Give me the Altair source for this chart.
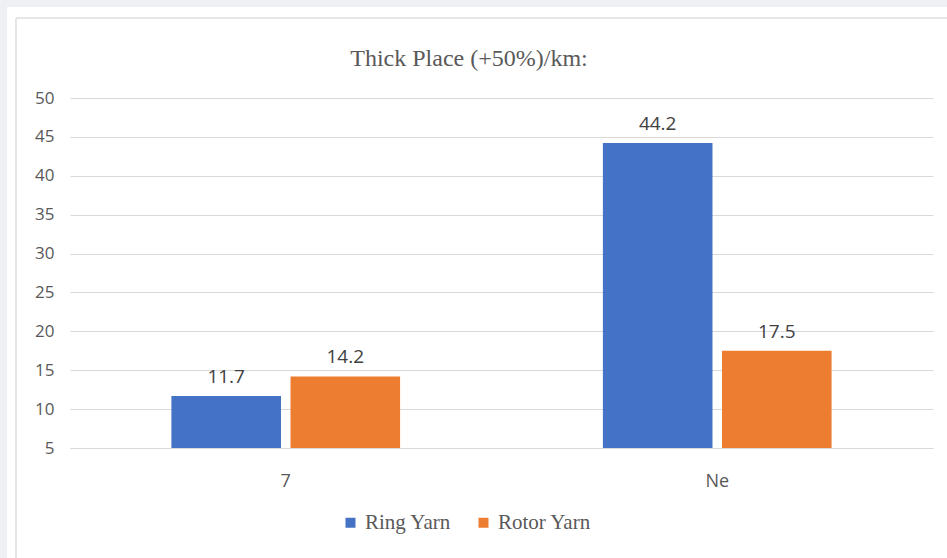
import altair as alt
import pandas as pd

# Chart data
categories = ["7", "Ne"]
series = ["Ring Yarn", "Rotor Yarn"]
ring_yarn = [11.7, 44.2]
rotor_yarn = [14.2, 17.5]
y_ticks = [5, 10, 15, 20, 25, 30, 35, 40, 45, 50]
title_text = "Thick Place (+50%)/km:"

rows = []
for cat, r, o in zip(categories, ring_yarn, rotor_yarn):
    rows.append({"count": cat, "yarn": series[0], "value": r})
    rows.append({"count": cat, "yarn": series[1], "value": o})
df = pd.DataFrame(rows)
one = pd.DataFrame({"title": [title_text]})

BLUE = "#4472c4"
ORANGE = "#ed7d31"
TEXT = "#595959"
GRID = "#d9d9d9"

x_enc = alt.X(
    "count:N",
    sort=categories,
    scale=alt.Scale(paddingInner=0.47, paddingOuter=0.235),
    axis=alt.Axis(
        title=None, labelAngle=0, ticks=False, domainColor=GRID,
        labelFont="Open Sans", labelFontSize=18, labelColor=TEXT,
        labelPadding=24, grid=False,
    ),
)
xoff_enc = alt.XOffset("yarn:N", sort=series,
                       scale=alt.Scale(paddingInner=0.08, paddingOuter=0))
y_enc = alt.Y(
    "value:Q",
    scale=alt.Scale(domain=[5, 50], zero=False, nice=False),
    axis=alt.Axis(
        title=None, values=y_ticks, ticks=False, domain=False,
        gridColor=GRID, gridWidth=1.2, labelOverlap=False,
        labelFont="Open Sans", labelFontSize=17, labelColor=TEXT,
        labelPadding=16,
    ),
)

bars = alt.Chart(df).mark_bar().encode(
    x=x_enc,
    xOffset=xoff_enc,
    y=y_enc,
    y2=alt.datum(5),
    color=alt.Color(
        "yarn:N", sort=series,
        scale=alt.Scale(domain=series, range=[BLUE, ORANGE]),
        legend=alt.Legend(
            title=None, orient="none", direction="horizontal",
            legendX=270, legendY=414,
            symbolType="square", symbolSize=100, symbolStrokeWidth=0,
            labelFont="Liberation Serif", labelFontSize=21, labelColor=TEXT,
            labelOffset=4, columnPadding=22,
        ),
    ),
)

labels = alt.Chart(df).mark_text(
    baseline="bottom", dy=-9, font="Open Sans", fontSize=19, color="#404040"
).encode(
    x=x_enc,
    xOffset=xoff_enc,
    y=y_enc,
    text=alt.Text("value:Q", format=".1f"),
)

# chart heading above the plot
heading = alt.Chart(one).mark_text(
    font="Liberation Serif", fontSize=24, color=TEXT,
    align="center", baseline="middle",
).encode(x=alt.value(399), y=alt.value(-39), text="title:N")

# page margin strips and the outer frame lines
strip_left = alt.Chart(one).mark_rect(color="#eef0f3").encode(
    x=alt.value(-70), x2=alt.value(-63), y=alt.value(-98), y2=alt.value(460)
)
strip_top = alt.Chart(one).mark_rect(color="#eef0f3").encode(
    x=alt.value(-70), x2=alt.value(877), y=alt.value(-98), y2=alt.value(-91)
)
frame_v = alt.Chart(one).mark_rule(color="#dedede", strokeWidth=1.5).encode(
    x=alt.value(-54), y=alt.value(-80), y2=alt.value(460)
)
frame_h = alt.Chart(one).mark_rule(color="#dedede", strokeWidth=1.5).encode(
    x=alt.value(-54), x2=alt.value(877), y=alt.value(-80)
)

chart = alt.layer(
    strip_left, strip_top, frame_v, frame_h, heading, bars, labels
).properties(
    width=863,
    height=350,
    background="white",
    autosize=alt.AutoSizeParams(type="none"),
    padding={"left": 70, "top": 98, "right": 14, "bottom": 110},
).configure_view(stroke=None)

chart.save("out.html", embed_options={"renderer": "svg", "actions": False})
